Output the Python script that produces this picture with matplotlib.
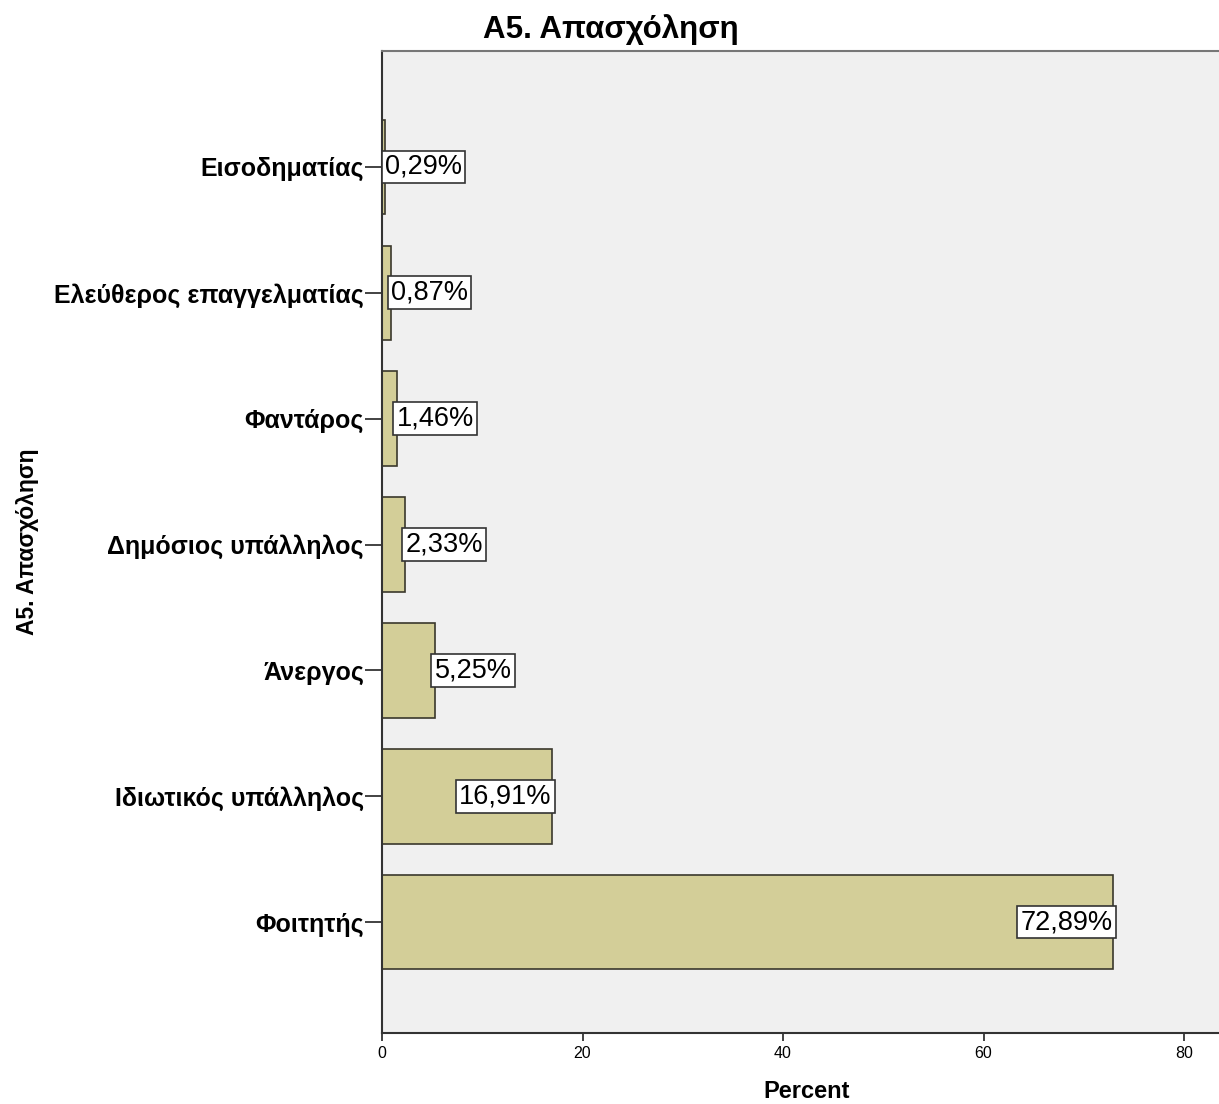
import matplotlib
matplotlib.use("Agg")
from matplotlib import pyplot as plt

plt.rcParams["font.family"] = ["Liberation Sans", "DejaVu Sans"]

# data (bottom to top)
categories = ["Φοιτητής", "Ιδιωτικός υπάλληλος", "Άνεργος", "Δημόσιος υπάλληλος",
              "Φαντάρος", "Ελεύθερος επαγγελματίας", "Εισοδηματίας"]
percents = [72.89, 16.91, 5.25, 2.33, 1.46, 0.87, 0.29]
xticks = [0, 20, 40, 60, 80]

BAR_COLOR = "#D3CE98"
EDGE_COLOR = "#3A382C"
BG_COLOR = "#F0F0F0"

fig = plt.figure(figsize=(12.19, 11.04), dpi=100)
ax = fig.add_axes([0.3134, 0.0643, 0.6866 + 0.01, 0.8895])
ax.set_facecolor(BG_COLOR)

ypos = list(range(len(categories)))
ax.barh(ypos, percents, height=0.75, color=BAR_COLOR, edgecolor=EDGE_COLOR, linewidth=1.2, zorder=2)

box_w = 9.6  # approx width of label box in data units
for y, v in zip(ypos, percents):
    label = f"{v:.2f}%".replace(".", ",")
    if v > box_w + 1:
        x, ha = v, "right"
    else:
        x, ha = v, "left"
    ax.text(x, y, label, ha=ha, va="center", fontsize=19.5, zorder=3,
            bbox=dict(boxstyle="square,pad=0.12", facecolor="white", edgecolor="#333333", linewidth=1.2))

ax.set_xlim(0, 84.7)
ax.set_ylim(-0.88, 6.92)
ax.set_yticks(ypos)
ax.set_yticklabels(categories, fontsize=18, fontweight="bold")
ax.set_xticks(xticks)
ax.tick_params(axis="y", length=12, width=1.2, pad=1, color="#222222")
ax.tick_params(axis="x", length=6, width=1.2, labelsize=11.5, pad=3, color="#222222")

for side in ["left", "bottom", "top"]:
    ax.spines[side].set_linewidth(1.5)
    ax.spines[side].set_color("#333333")
ax.spines["top"].set_color("#777777")
ax.spines["right"].set_visible(False)

ax.set_xlabel("Percent", fontsize=17, fontweight="bold", labelpad=14)
ax.set_ylabel("A5. Απασχόληση", fontsize=16.5, fontweight="bold", labelpad=0)
ax.yaxis.set_label_coords(-0.404, 0.5)
fig.text(0.501, 0.973, "A5. Απασχόληση", fontsize=22.5, fontweight="bold", ha="center", va="center")

fig.savefig("out.png", dpi=100)
